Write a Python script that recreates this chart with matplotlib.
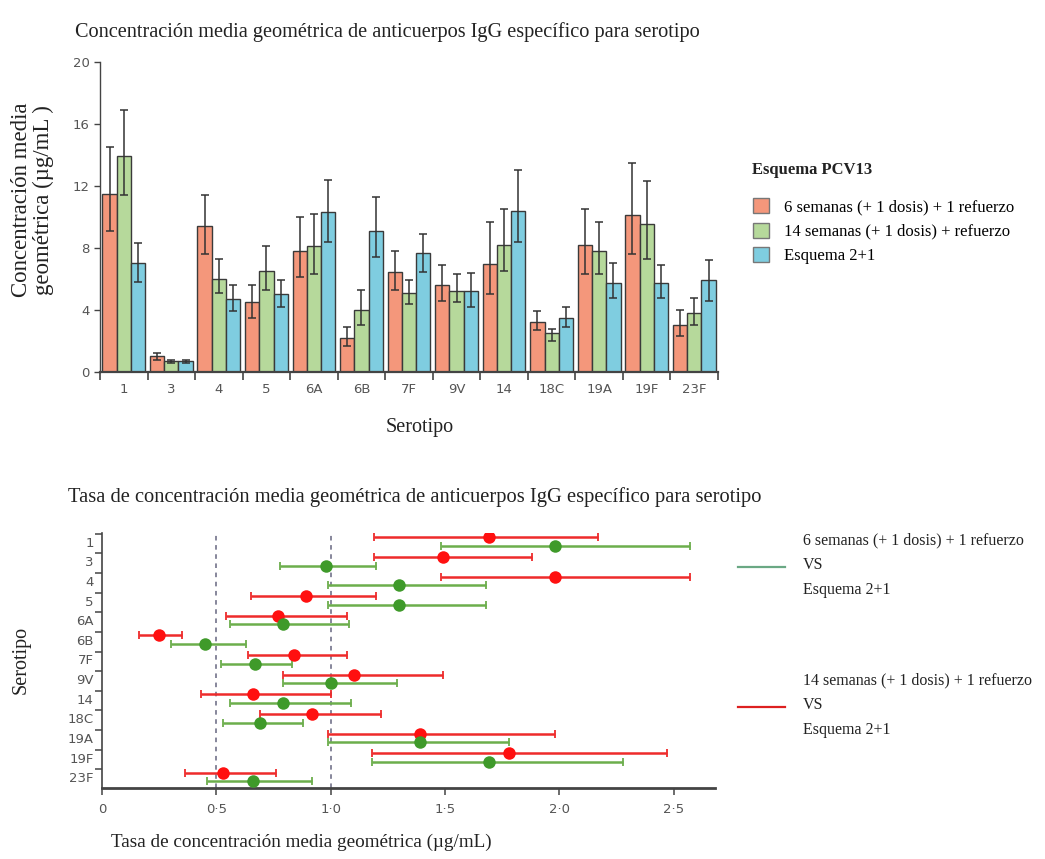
import matplotlib
matplotlib.use('Agg')
import matplotlib.pyplot as plt
import numpy as np
from matplotlib.patches import Patch
from matplotlib.lines import Line2D

# ---- top chart data (GMC, ug/mL) ----
serotipos = ['1', '3', '4', '5', '6A', '6B', '7F', '9V', '14', '18C', '19A', '19F', '23F']

gmc_6s = [11.5, 1.0, 9.4, 4.5, 7.8, 2.2, 6.45, 5.6, 6.95, 3.25, 8.2, 10.1, 3.0]
gmc_6s_lo = [9.1, 0.8, 7.6, 3.5, 6.1, 1.7, 5.3, 4.6, 5.0, 2.7, 6.3, 7.6, 2.3]
gmc_6s_hi = [14.5, 1.2, 11.4, 5.6, 10.0, 2.9, 7.8, 6.9, 9.7, 3.9, 10.5, 13.5, 4.0]

gmc_14s = [13.9, 0.7, 6.0, 6.5, 8.1, 4.0, 5.1, 5.2, 8.2, 2.5, 7.8, 9.55, 3.8]
gmc_14s_lo = [11.4, 0.6, 5.1, 5.3, 6.3, 3.0, 4.4, 4.5, 6.5, 2.0, 6.3, 7.3, 3.0]
gmc_14s_hi = [16.9, 0.8, 7.3, 8.1, 10.2, 5.3, 5.9, 6.3, 10.5, 2.8, 9.7, 12.3, 4.8]

gmc_21 = [7.05, 0.7, 4.7, 5.0, 10.3, 9.1, 7.65, 5.2, 10.4, 3.5, 5.75, 5.75, 5.9]
gmc_21_lo = [5.8, 0.6, 3.9, 4.2, 8.4, 7.4, 6.45, 4.2, 8.4, 2.9, 4.75, 4.8, 4.6]
gmc_21_hi = [8.3, 0.8, 5.6, 5.9, 12.4, 11.3, 8.9, 6.4, 13.0, 4.2, 7.0, 6.9, 7.2]

# ---- bottom chart data (GMC ratios vs Esquema 2+1) ----
ratio_14s = [1.69, 1.49, 1.98, 0.89, 0.77, 0.25, 0.84, 1.10, 0.66, 0.92, 1.39, 1.78, 0.53]
ratio_14s_lo = [1.19, 1.19, 1.48, 0.65, 0.54, 0.16, 0.64, 0.79, 0.435, 0.69, 0.99, 1.18, 0.365]
ratio_14s_hi = [2.17, 1.88, 2.57, 1.20, 1.07, 0.35, 1.07, 1.49, 1.00, 1.22, 1.98, 2.47, 0.76]

ratio_6s = [1.98, 0.98, 1.30, 1.30, 0.79, 0.45, 0.67, 1.00, 0.79, 0.69, 1.39, 1.69, 0.66]
ratio_6s_lo = [1.48, 0.78, 0.99, 0.99, 0.56, 0.30, 0.52, 0.79, 0.56, 0.53, 0.99, 1.18, 0.46]
ratio_6s_hi = [2.57, 1.20, 1.68, 1.68, 1.08, 0.63, 0.83, 1.29, 1.09, 0.88, 1.78, 2.28, 0.92]

leyenda_barras = ['6 semanas (+ 1 dosis) + 1 refuerzo',
                  '14 semanas (+ 1 dosis) + refuerzo',
                  'Esquema 2+1']

SERIF = 'Liberation Serif'
C_RED = '#f4977b'
C_GREEN = '#b6d99b'
C_BLUE = '#7fcde0'
TXT = '#222222'
TICK = '#555555'

fig = plt.figure(figsize=(10.45, 8.59), dpi=100)

# ================= top: bar chart =================
ax1 = fig.add_axes([0.0957, 0.567, 0.5914, 0.361])
x = np.arange(len(serotipos))
w = 0.3
series = [(gmc_6s, gmc_6s_lo, gmc_6s_hi, C_RED),
          (gmc_14s, gmc_14s_lo, gmc_14s_hi, C_GREEN),
          (gmc_21, gmc_21_lo, gmc_21_hi, C_BLUE)]
for k, (v, lo, hi, col) in enumerate(series):
    v = np.array(v)
    err = [v - np.array(lo), np.array(hi) - v]
    ax1.bar(x + (k - 1) * w, v, w, color=col, edgecolor='#3a3a3a', linewidth=1.0,
            yerr=err, error_kw=dict(ecolor='#333333', elinewidth=1.1, capsize=3, capthick=1.1))

ax1.set_xlim(-0.5, len(serotipos) - 0.5)
ax1.set_ylim(0, 20)
ax1.set_yticks([0, 4, 8, 12, 16, 20])
ax1.set_xticks(x)
ax1.set_xticklabels(serotipos)
ax1.set_xticks(np.arange(-0.5, len(serotipos)), minor=True)
ax1.tick_params(axis='x', which='major', length=0, pad=8, labelsize=9.5, labelcolor=TICK)
ax1.tick_params(axis='x', which='minor', length=6, width=1.2, color='#444444', direction='out')
ax1.tick_params(axis='y', length=4, width=1.0, color='#444444', labelsize=9.5, labelcolor=TICK)
for s in ['top', 'right']:
    ax1.spines[s].set_visible(False)
for s in ['left', 'bottom']:
    ax1.spines[s].set_color('#444444')
ax1.spines['bottom'].set_linewidth(1.6)
ax1.spines['left'].set_linewidth(1.0)

fig.text(0.072, 0.963, 'Concentración media geométrica de anticuerpos IgG específico para serotipo',
         family=SERIF, fontsize=14.6, color=TXT, va='center', ha='left')
fig.text(0.031, 0.767, 'Concentración media\ngeométrica (µg/mL )', family=SERIF, fontsize=16.5,
         color=TXT, rotation=90, ha='center', va='center', linespacing=1.05)
fig.text(0.402, 0.502, 'Serotipo', family=SERIF, fontsize=14.5, color=TXT, ha='center', va='center')

fig.text(0.7196, 0.802, 'Esquema PCV13', family=SERIF, fontsize=12, weight='bold', color=TXT,
         ha='left', va='center')
handles = [Patch(facecolor=c, edgecolor='#777777', linewidth=1.0) for c in (C_RED, C_GREEN, C_BLUE)]
leg = fig.legend(handles, leyenda_barras, loc='upper left', bbox_to_anchor=(0.706, 0.787),
                 frameon=False, prop={'family': SERIF, 'size': 12}, handlelength=1.0,
                 handleheight=1.0, handletextpad=0.9, labelspacing=0.45)

# ================= bottom: ratio forest plot =================
ax2 = fig.add_axes([0.0976, 0.0827, 0.5866, 0.297])
y = np.arange(len(serotipos))
off = 0.22
for v, lo, hi, yy, lc, mc in [(ratio_14s, ratio_14s_lo, ratio_14s_hi, y - off, '#ee2b2b', '#ff1010'),
                              (ratio_6s, ratio_6s_lo, ratio_6s_hi, y + off, '#6cae4c', '#3f9a2a')]:
    v = np.array(v)
    err = [v - np.array(lo), np.array(hi) - v]
    ax2.errorbar(v, yy, xerr=err, fmt='none', ecolor=lc, elinewidth=1.8, capsize=3, capthick=1.3, zorder=2)
    ax2.plot(v, yy, 'o', color=mc, markersize=9, markeredgewidth=0, zorder=3)

for xv in (0.5, 1.0):
    ax2.axvline(xv, color='#666680', linestyle=(0, (3, 3)), linewidth=1.1, zorder=1)

ax2.set_xlim(0, 2.68)
ax2.set_ylim(12.55, -0.45)
ax2.set_xticks([0, 0.5, 1.0, 1.5, 2.0, 2.5])
ax2.set_xticklabels(['0', '0·5', '1·0', '1·5', '2·0', '2·5'])
ax2.set_yticks(y)
ax2.set_yticklabels(serotipos)
ax2.set_yticks(np.arange(-0.4, len(serotipos) - 0.4), minor=True)
ax2.tick_params(axis='y', which='major', length=0, pad=6, labelsize=9.5, labelcolor=TICK)
ax2.tick_params(axis='y', which='minor', length=5, width=1.1, color='#444444')
ax2.tick_params(axis='x', length=5, width=1.1, color='#444444', labelsize=9.5, labelcolor=TICK, pad=6)
for s in ['top', 'right']:
    ax2.spines[s].set_visible(False)
for s in ['left', 'bottom']:
    ax2.spines[s].set_color('#444444')
ax2.spines['bottom'].set_linewidth(2.0)
ax2.spines['left'].set_linewidth(1.2)

fig.text(0.065, 0.421, 'Tasa de concentración media geométrica de anticuerpos IgG específico para serotipo',
         family=SERIF, fontsize=14.8, color=TXT, va='center', ha='left')
fig.text(0.020, 0.232, 'Serotipo', family=SERIF, fontsize=14.5, color=TXT, rotation=90,
         ha='center', va='center')
fig.text(0.288, 0.019, 'Tasa de concentración media geométrica (µg/mL)', family=SERIF,
         fontsize=13.8, color=TXT, ha='center', va='center')

# legend for the ratio plot
for y0, col, label in [(0.340, '#6aa884', '6 semanas (+ 1 dosis) + 1 refuerzo'),
                       (0.177, '#dd2020', '14 semanas (+ 1 dosis) + 1 refuerzo')]:
    fig.add_artist(Line2D([0.706, 0.751], [y0, y0], color=col, linewidth=1.6))
    fig.text(0.768, y0 + 0.031, label, family=SERIF, fontsize=11.5, color=TXT, va='center')
    fig.text(0.768, y0 + 0.002, 'VS', family=SERIF, fontsize=11.5, color=TXT, va='center')
    fig.text(0.768, y0 - 0.027, 'Esquema 2+1', family=SERIF, fontsize=11.5, color=TXT, va='center')

fig.savefig('out.png', dpi=100, facecolor='white')
